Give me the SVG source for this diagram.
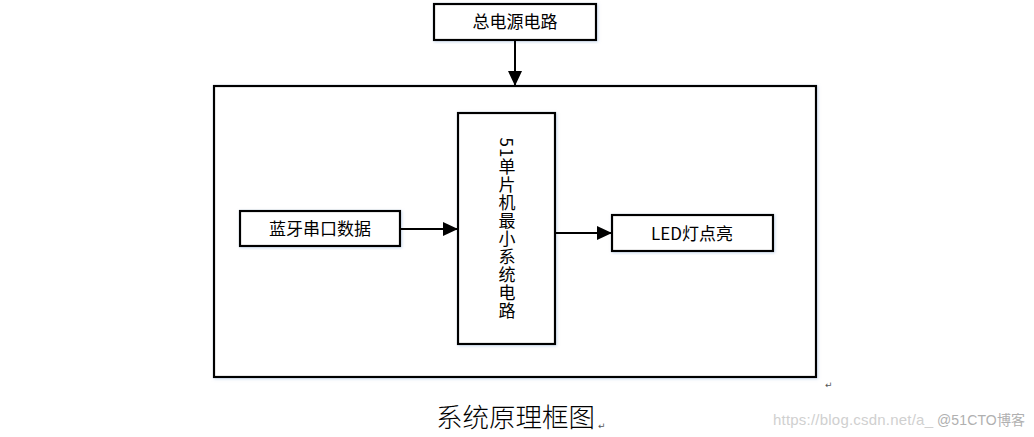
<svg xmlns="http://www.w3.org/2000/svg" width="1034" height="437" viewBox="0 0 1034 437">
<defs>
<style>
.box{fill:#fff;stroke:#000;stroke-width:2.2}
.lbl{font-family:"Noto Sans CJK SC","Liberation Sans",sans-serif;font-size:17px;fill:#000}
.conn{stroke:#000;stroke-width:2;fill:none}
.mark{font-family:"DejaVu Sans",sans-serif;font-size:9px;fill:#555}
</style>
<marker id="arr" markerUnits="userSpaceOnUse" markerWidth="16" markerHeight="16" refX="15" refY="7" orient="auto">
<path d="M0,0 L15,7 L0,14 Z" fill="#000"/>
</marker>
<filter id="sh" x="-10%" y="-10%" width="120%" height="120%">
<feDropShadow dx="1" dy="1" stdDeviation="1.5" flood-color="#9bb8dd" flood-opacity="0.5"/>
</filter>
</defs>
<rect width="1034" height="437" fill="#fff"/>
<g id="outer"><rect class="box" x="214" y="86" width="602" height="291" filter="url(#sh)"/></g>
<g id="power"><rect class="box" x="434" y="4" width="162" height="36" filter="url(#sh)"/><text class="lbl" x="515" y="28" text-anchor="middle">总电源电路</text></g>
<g id="bluetooth"><rect class="box" x="240" y="211" width="160" height="35" filter="url(#sh)"/><text class="lbl" x="320" y="235" text-anchor="middle">蓝牙串口数据</text></g>
<g id="mcu"><rect class="box" x="458" y="113" width="97" height="231" filter="url(#sh)"/><text class="lbl" x="507" y="229" text-anchor="middle" writing-mode="vertical-rl" style="letter-spacing:1px">51单片机最小系统电路</text></g>
<g id="led"><rect class="box" x="612" y="215" width="161" height="36" filter="url(#sh)"/><text class="lbl" x="692" y="240" text-anchor="middle">LED灯点亮</text></g>
<g id="connectors">
<line class="conn" x1="515" y1="41" x2="515" y2="86" marker-end="url(#arr)"/>
<line class="conn" x1="401" y1="229" x2="458" y2="229" marker-end="url(#arr)"/>
<line class="conn" x1="555" y1="233" x2="612" y2="233" marker-end="url(#arr)"/>
</g>
<text class="mark" x="825" y="388">↵</text>
<text x="436" y="427" style="font-family:'Noto Sans CJK SC',serif;font-size:26.5px;font-weight:300;fill:#000">系统原理框图</text>
<text class="mark" x="598" y="429">↵</text>
<text x="773" y="425" textLength="160" style="font-family:'Liberation Sans','Noto Sans CJK SC',sans-serif;font-size:15px;fill:#d0d0d0">https://blog.csdn.net/a_</text>
<text x="937" y="425" textLength="88" style="font-family:'Liberation Sans','Noto Sans CJK SC',sans-serif;font-size:14px;fill:#b0b0b0">@51CTO博客</text>
</svg>
